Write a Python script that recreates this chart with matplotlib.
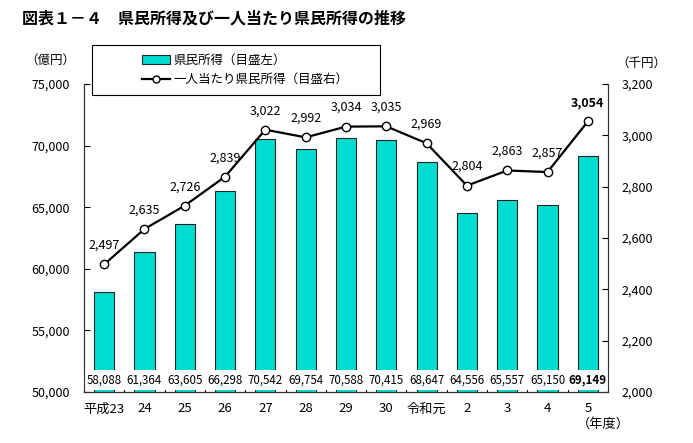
import matplotlib.pyplot as plt
from matplotlib.patches import Patch, Rectangle
from matplotlib.lines import Line2D

plt.rcParams['font.family'] = ['Noto Sans CJK JP', 'DejaVu Sans']

years = ['平成23', '24', '25', '26', '27', '28', '29', '30', '令和元', '2', '3', '4', '5']
income = [58088, 61364, 63605, 66298, 70542, 69754, 70588, 70415, 68647, 64556, 65557, 65150, 69149]
per_capita = [2497, 2635, 2726, 2839, 3022, 2992, 3034, 3035, 2969, 2804, 2863, 2857, 3054]

bar_color = '#00DDD0'
x = list(range(len(years)))

fig = plt.figure(figsize=(6.93, 4.43), dpi=100)
ax = fig.add_axes([0.1212, 0.1151, 0.7561, 0.6953])
ax2 = ax.twinx()

ax.bar(x, income, width=0.5, color=bar_color, edgecolor='#222222', linewidth=0.8, zorder=2)
ax.set_xlim(-0.5, len(years) - 0.5)
ax.set_ylim(50000, 75000)
ax.set_yticks(range(50000, 75001, 5000))
ax.set_yticklabels([f'{v:,}' for v in range(50000, 75001, 5000)], fontsize=9)
ax.tick_params(axis='y', direction='in', length=4, pad=10)

# bottom axis: ticks between categories, labels under bars
ax.set_xticks([i - 0.5 for i in range(len(years) + 1)])
ax.set_xticklabels([])
ax.tick_params(axis='x', direction='in', length=4)
for i, lab in enumerate(years):
    ax.text(i, -0.055, lab, transform=ax.get_xaxis_transform(), ha='center', va='center', fontsize=9.5)

for i, v in enumerate(income):
    ax.text(i, 50950, f'{v:,}', ha='center', va='center', fontsize=8.3,
            fontweight='bold' if i == len(income) - 1 else 'normal',
            bbox=dict(facecolor='white', edgecolor='none', pad=2.5), zorder=3)

ax2.plot(x, per_capita, color='black', linewidth=1.6, marker='o', markersize=6,
         markerfacecolor='white', markeredgecolor='black', zorder=4)
ax2.set_ylim(2000, 3200)
ax2.set_yticks(range(2000, 3201, 200))
ax2.set_yticklabels([f'{v:,}' for v in range(2000, 3201, 200)], fontsize=9)
ax2.tick_params(axis='y', direction='in', length=4, pad=10)

for i, v in enumerate(per_capita):
    ax2.annotate(f'{v:,}', (i, v), xytext=(0, 9), textcoords='offset points',
                 ha='center', va='bottom', fontsize=9,
                 fontweight='bold' if i == len(per_capita) - 1 else 'normal')

for a in (ax, ax2):
    a.spines['top'].set_visible(False)
    for s in a.spines.values():
        s.set_color('#333333')

fig.text(0.032, 0.958, '図表１－４　県民所得及び一人当たり県民所得の推移', fontsize=11.5,
         fontweight='bold', va='center', ha='left')
fig.text(0.072, 0.865, '（億円）', fontsize=9, ha='center', va='center')
fig.text(0.926, 0.858, '（千円）', fontsize=9, ha='center', va='center')
fig.text(0.870, 0.043, '（年度）', fontsize=9.5, ha='center', va='center')

# legend frame drawn separately so it can be wider than its entries
fig.patches.append(Rectangle((0.1328, 0.7856), 0.4155, 0.1128, transform=fig.transFigure,
                             facecolor='white', edgecolor='black', linewidth=0.8, zorder=5))
handles = [Patch(facecolor=bar_color, edgecolor='#222222', linewidth=0.8),
           Line2D([0], [0], color='black', linewidth=1.6, marker='o', markersize=5,
                  markerfacecolor='white', markeredgecolor='black')]
leg = fig.legend(handles, ['県民所得（目盛左）', '一人当たり県民所得（目盛右）'],
                 loc='center left', bbox_to_anchor=(0.205, 0.842), fontsize=9,
                 frameon=False, handlelength=2.2, handletextpad=0.3, labelspacing=0.5,
                 borderaxespad=0, borderpad=0)
leg.set_zorder(6)

fig.savefig('out.png', dpi=100)
